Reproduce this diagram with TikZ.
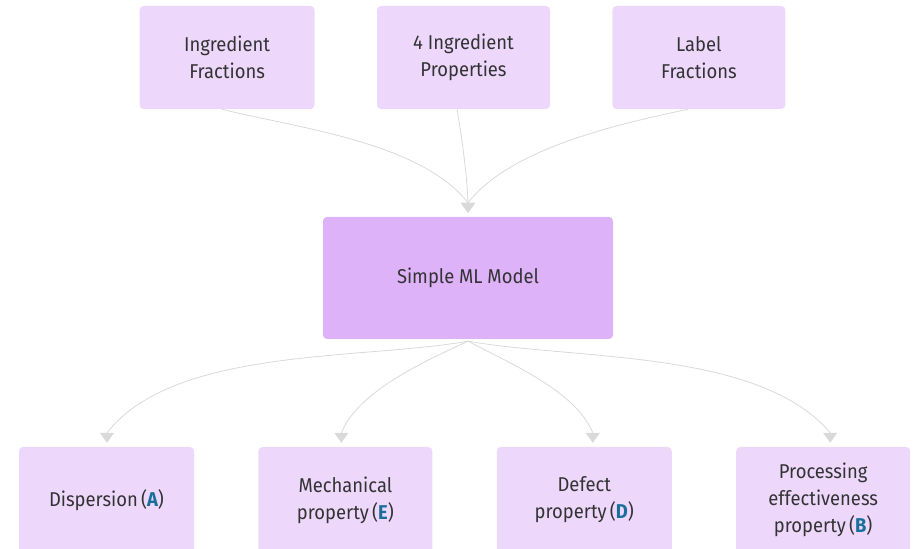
\documentclass[tikz,border=0pt]{standalone}
\usepackage{fontspec}
\setmainfont{Fira Sans}[FakeStretch=0.92]
\usetikzlibrary{positioning}
\usetikzlibrary{arrows.meta}
\definecolor{color1}{RGB}{237, 216, 252}
\definecolor{color2}{RGB}{221, 178, 249}
\definecolor{color3}{RGB}{217, 217, 217}
\definecolor{color4}{RGB}{26, 111, 154}
\definecolor{color5}{RGB}{51, 51, 51}
\tikzstyle{line} = [draw=color3, line width=0.8pt, shorten >=4pt, looseness=0.75, -{Triangle[width=14pt,length=10pt]}]
\tikzstyle{term} = [rounded corners=4pt, fill=color1, text=color5, align=center, inner sep=0pt, minimum height=103pt, font=\fontsize{20}{27}\selectfont]
\tikzstyle{model} = [term, fill=color2, minimum width=290pt, minimum height=122pt]
\newcommand{\tag}[1]{(\textbf{\textcolor{color4}{#1}})}

\begin{document}
\begin{tikzpicture}
  \useasboundingbox (0,0) rectangle (914pt,549pt);

  % ============================ Inputs ========================================

  \node[term, minimum width=173pt] (prop) at (463.5pt,491.5pt) {4 Ingredient\\Properties};
  \node[term, minimum width=175pt, left=62pt of prop] (ingr) {Ingredient\\Fractions};
  \node[term, minimum width=173pt, right=62pt of prop] (lab) {Label\\Fractions};

  % ============================= Model ========================================

  \node[model] (ml) at (468pt,271pt) {\raisebox{-3pt}{Simple ML Model}};

  % ============================ Outputs =======================================

  \node[term, minimum width=175pt, minimum height=106pt] (disp) at (106.5pt,49pt) {Dispersion\,\tag{A}};
  \node[term, minimum width=174pt, minimum height=106pt, right=64pt of disp] (mech) {Mechanical\\property\,\tag{E}};
  \node[term, minimum width=175pt, minimum height=106pt, right=64pt of mech] (dfct) {Defect\\property\,\tag{D}};
  \node[term, minimum width=174pt, minimum height=106pt, right=64pt of dfct] (proc) {Processing\\effectiveness\\property\,\tag{B}};

  % ============================= Connect ======================================
  \path[line] ([xshift=-5.5pt]ingr.south) to[out=-14, in=128] ([yshift=14pt]ml.north) -- (ml.north);
  \path[line] ([xshift=-6.5pt]prop.south) to[out=-80, in=92] ([yshift=14pt]ml.north) -- (ml.north);
  \path[line] ([xshift=-10.5pt]lab.south) to[out=192, in=52] ([yshift=14pt]ml.north) -- (ml.north);

  \path[line] ([yshift=-2pt]ml.south) to[out=190, in=52] ([xshift=0.5pt, yshift=14pt]disp.north) -- ([xshift=0.5pt]disp.north);
  \path[line] ([yshift=-2pt]ml.south) to[out=205, in=68] ([xshift=-4pt, yshift=14pt]mech.north) -- ([xshift=-4pt]mech.north);
  \path[line] ([yshift=-2pt]ml.south) to[out=-28, in=112] ([xshift=8.5pt, yshift=14pt]dfct.north) -- ([xshift=8.5pt]dfct.north);
  \path[line] ([yshift=-2pt]ml.south) to[out=-10, in=130] ([xshift=7pt, yshift=14pt]proc.north) -- ([xshift=7pt]proc.north);

\end{tikzpicture}
\end{document}
